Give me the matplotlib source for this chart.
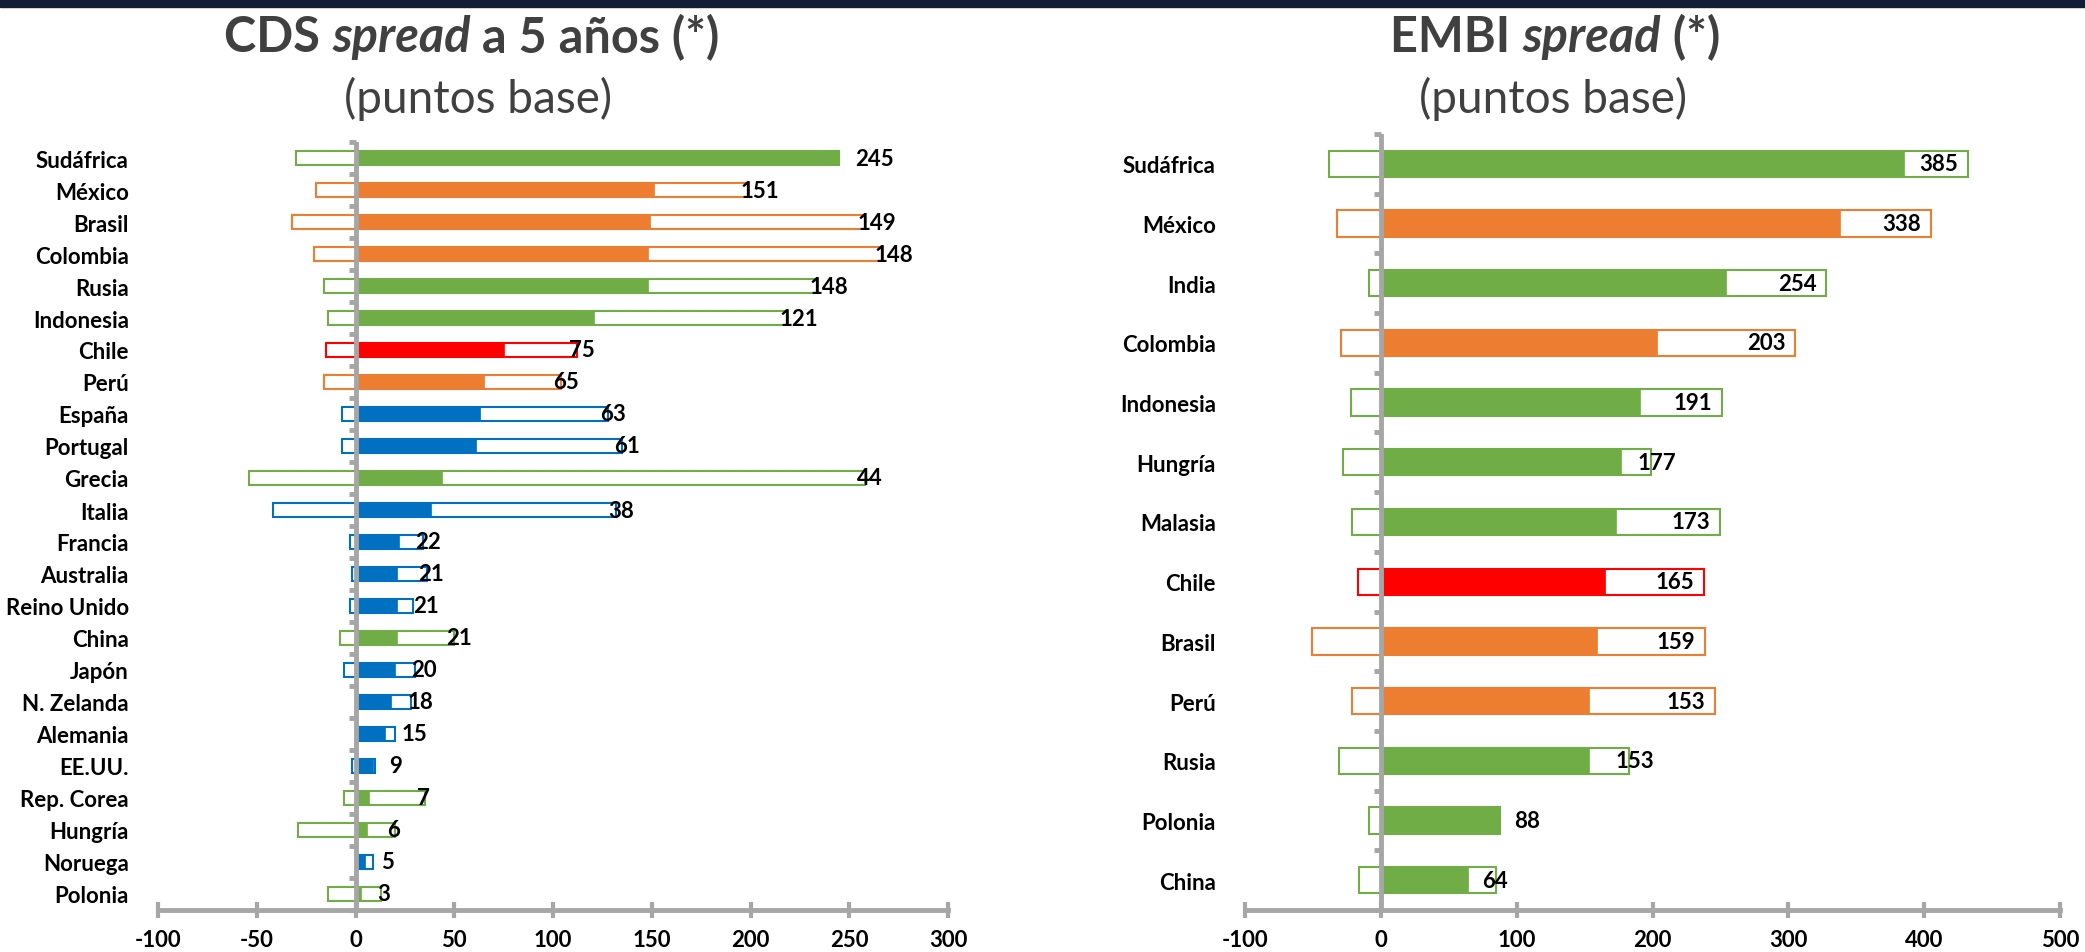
import matplotlib
matplotlib.use("Agg")
import matplotlib.pyplot as plt
from matplotlib.patches import Rectangle
import numpy as np

plt.rcParams['font.family'] = ['Lato', 'DejaVu Sans']
plt.rcParams['axes.unicode_minus'] = False

# colores por grupo
colores = {"emerg": "#70ad47", "latam": "#ed7d31", "desarr": "#0070c0", "chile": "#ff0000"}
gris = "#a6a6a6"

# CDS spread a 5 años
paises_cds = ["Sudáfrica", "México", "Brasil", "Colombia", "Rusia", "Indonesia", "Chile", "Perú",
              "España", "Portugal", "Grecia", "Italia", "Francia", "Australia", "Reino Unido",
              "China", "Japón", "N. Zelanda", "Alemania", "EE.UU.", "Rep. Corea", "Hungría",
              "Noruega", "Polonia"]
cds_actual = [245, 151, 149, 148, 148, 121, 75, 65, 63, 61, 44, 38, 22, 21, 21, 21, 20, 18, 15, 9, 7, 6, 5, 3]
cds_min = [-30, -20, -32, -21, -16, -14, -15, -16, -7, -7, -54, -42, -3, -2, -3, -8, -6, 0, 0, -2, -6, -29, 0, -14]
cds_max = [245, 199, 258, 267, 234, 219, 112, 104, 128, 135, 258, 132, 34, 36, 29, 50, 30, 28, 20, 10, 35, 20, 9, 13]
grupo_cds = ["emerg", "latam", "latam", "latam", "emerg", "emerg", "chile", "latam",
             "desarr", "desarr", "emerg", "desarr", "desarr", "desarr", "desarr",
             "emerg", "desarr", "desarr", "desarr", "desarr", "emerg", "emerg",
             "desarr", "emerg"]

# EMBI spread
paises_embi = ["Sudáfrica", "México", "India", "Colombia", "Indonesia", "Hungría", "Malasia",
               "Chile", "Brasil", "Perú", "Rusia", "Polonia", "China"]
embi_actual = [385, 338, 254, 203, 191, 177, 173, 165, 159, 153, 153, 88, 64]
embi_min = [-38, -32, -9, -29, -22, -28, -21, -17, -51, -21, -31, -9, -16]
embi_max = [432, 405, 328, 305, 251, 199, 250, 238, 239, 246, 183, 88, 85]
grupo_embi = ["emerg", "latam", "emerg", "latam", "emerg", "emerg", "emerg",
              "chile", "latam", "latam", "emerg", "emerg", "emerg"]

W, H = 2085, 953
fig = plt.figure(figsize=(W / 100, H / 100), dpi=100)
fig.patches.append(Rectangle((0, 1 - 8 / H), 1, 8 / H, transform=fig.transFigure,
                             color="#141d36", zorder=0))

ax1 = fig.add_axes([158 / W, 1 - 911 / H, 790 / W, (911 - 143) / H])
ax2 = fig.add_axes([1245 / W, 1 - 911 / H, 815 / W, (911 - 135) / H])


def panel(ax, paises, actual, vmin, vmax, grupos, xlim, paso, modo):
    n = len(paises)
    y = np.arange(n)
    cols = [colores[g] for g in grupos]
    alto = 0.44
    ax.barh(y, np.array(vmax) - np.array(vmin), left=vmin, height=alto,
            color="white", edgecolor=cols, linewidth=1.5, zorder=2)
    ax.barh(y, actual, height=alto, color=cols, edgecolor=cols, linewidth=0.5, zorder=3)
    ax.set_xlim(xlim)
    ax.set_ylim(n - 0.5, -0.5)
    ax.axvline(0, color=gris, lw=3.5, zorder=5)
    ax.plot(np.zeros(n + 1), np.arange(n + 1) - 0.5, ls="none", marker=0,
            ms=5, mew=3.5, color=gris, zorder=5, clip_on=False)
    for s in ["top", "right", "left"]:
        ax.spines[s].set_visible(False)
    ax.spines["bottom"].set_color(gris)
    ax.spines["bottom"].set_linewidth(3.5)
    ax.set_xticks(np.arange(xlim[0], xlim[1] + 1, paso))
    ax.tick_params(axis="x", direction="inout", length=12, width=3, color=gris,
                   labelsize=16, pad=8)
    for t in ax.get_xticklabels():
        t.set_fontweight("bold")
    ax.set_yticks(y)
    ax.set_yticklabels(paises, fontsize=16, fontweight="bold")
    ax.tick_params(axis="y", length=0, pad=21)

    ppu = ax.get_position().width * W / (xlim[1] - xlim[0])
    for i in range(n):
        s = str(actual[i])
        ancho = len(s) * 12.5 / ppu
        if modo == "afuera":
            x = max(actual[i] + 16 / ppu, vmax[i] - 8 / ppu)
            ax.text(x, i, s, ha="left", va="center", fontsize=16, fontweight="bold", zorder=6)
        else:
            der = vmax[i] - 10 / ppu
            if der - ancho < actual[i] + 15 / ppu:
                x = max(actual[i] + 14 / ppu, vmax[i] - 14 / ppu)
                ax.text(x, i, s, ha="left", va="center", fontsize=16, fontweight="bold", zorder=6)
            else:
                ax.text(der, i, s, ha="right", va="center", fontsize=16, fontweight="bold", zorder=6)


panel(ax1, paises_cds, cds_actual, cds_min, cds_max, grupo_cds, (-100, 300), 50, "afuera")
panel(ax2, paises_embi, embi_actual, embi_min, embi_max, grupo_embi, (-100, 500), 100, "adentro")


def titulo(partes, xc, y, size, peso, color):
    r = fig.canvas.get_renderer()
    textos = []
    for s, estilo in partes:
        textos.append(fig.text(0, 1 - y / H, s, fontsize=size, fontweight=peso,
                               fontstyle=estilo, color=color, ha="left", va="center"))
    anchos = [t.get_window_extent(r).width for t in textos]
    x = xc - sum(anchos) / 2
    for t, w in zip(textos, anchos):
        t.set_x(x / W)
        x += w


titulo([("CDS ", "normal"), ("spread", "italic"), (" a 5 años (*)", "normal")],
       472, 38, 35, "bold", "#404040")
titulo([("(puntos base)", "normal")], 478, 99, 33, "normal", "#404040")
titulo([("EMBI ", "normal"), ("spread", "italic"), (" (*)", "normal")],
       1555, 38, 35, "bold", "#404040")
titulo([("(puntos base)", "normal")], 1553, 99, 33, "normal", "#404040")

fig.savefig("out.png", dpi=100)
